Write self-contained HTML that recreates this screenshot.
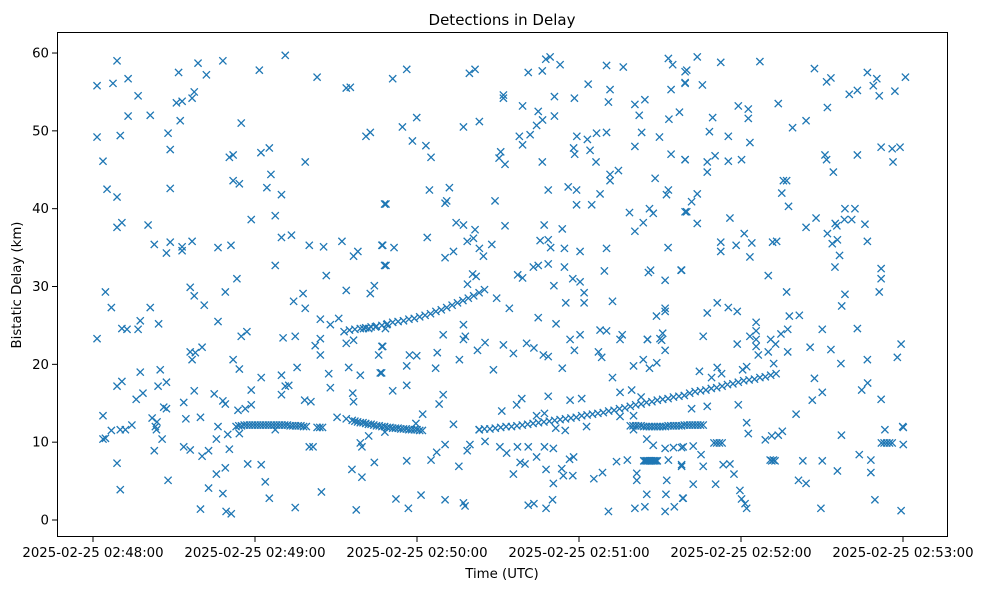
<!DOCTYPE html>
<html><head><meta charset="utf-8"><style>
html,body{margin:0;padding:0;background:#fff;}
svg{display:block;font-family:"DejaVu Sans","Liberation Sans",sans-serif;}
</style></head><body>
<svg id="chart" width="984" height="590" viewBox="0 0 984 590" xmlns="http://www.w3.org/2000/svg">
<rect x="0" y="0" width="984" height="590" fill="#fff"/>
<text x="502" y="25" font-size="15" text-anchor="middle" fill="#000">Detections in Delay</text>
<g id="marks"></g>
<g id="axes"></g>
<rect x="57.5" y="32.5" width="890" height="504" fill="none" stroke="#000" stroke-width="1"/>
<text x="502" y="578" font-size="13.3" text-anchor="middle" fill="#000">Time (UTC)</text>
<text x="0" y="0" font-size="13.3" text-anchor="middle" fill="#000" transform="translate(21,285) rotate(-90)">Bistatic Delay (km)</text>
</svg>
<script>
// seconds after 02:48:00 / km
var xTickValues = [0, 60, 120, 180, 240, 300];
var xTickLabels = ["2025-02-25 02:48:00","2025-02-25 02:49:00","2025-02-25 02:50:00","2025-02-25 02:51:00","2025-02-25 02:52:00","2025-02-25 02:53:00"];
var yTickValues = [0, 10, 20, 30, 40, 50, 60];
var yTickLabels = ["0","10","20","30","40","50","60"];

var trackAT = [53,54,55,56,57,58,59,60,61,62,63,64,65,66,67,68,69,70,71,72,73,74,75,76,77,78,79,83,84,85];
var trackAD = [12.0,12.1,12.1,12.2,12.2,12.2,12.2,12.2,12.2,12.2,12.2,12.2,12.2,12.2,12.2,12.2,12.2,12.2,12.2,12.2,12.1,12.1,12.1,12.1,12.1,12.0,12.0,11.9,11.9,11.9];
var trackBT = [96,97,98,99,100,101,102,103,104,105,106,107,108,109,110,111,112,113,114,115,116,117,118,119,120,121,122];
var trackBD = [12.8,12.7,12.6,12.5,12.5,12.4,12.3,12.3,12.2,12.1,12.1,12.0,12.0,11.9,11.9,11.8,11.8,11.8,11.7,11.7,11.7,11.6,11.6,11.6,11.6,11.5,11.5];
var trackCT = [93,95,97,99,101,103,105,107,109,111,113,115,117,119,121,123,125,127,129,131,133,135,137,139,141,143,145];
var trackCD = [24.2,24.4,24.5,24.6,24.7,24.8,24.9,25.0,25.2,25.4,25.5,25.6,25.8,25.9,26.1,26.3,26.5,26.8,27.0,27.3,27.6,27.9,28.2,28.5,28.8,29.2,29.6];
var trackDT = [143,145,147,149,151,153,155,157,159,161,163,165,167,169,171,173,175,177,179,181,183,185,187,189,191,193,195,197,199,201,203,205,207,209,211,213,215,217,219,221,223,225,227,229,231,233,235,237,239,241,243,245,247,249,251,253];
var trackDD = [11.6,11.7,11.7,11.8,11.9,12.0,12.0,12.1,12.2,12.3,12.4,12.5,12.6,12.7,12.8,12.9,13.0,13.1,13.2,13.4,13.5,13.6,13.7,13.8,14.0,14.1,14.3,14.4,14.6,14.8,14.9,15.1,15.2,15.4,15.5,15.6,15.8,15.9,16.0,16.3,16.5,16.6,16.7,16.9,17.0,17.2,17.4,17.5,17.7,17.9,18.0,18.1,18.3,18.4,18.6,18.8];
var trackET = [199,200,201,202,203,204,205,206,207,208,209,210,211,212,213,214,215,216,217,218,219,220,221,222,223,224,225,226];
var trackED = [12.1,12.1,12.1,12.1,12.1,12.0,12.0,12.0,12.0,12.0,12.0,12.0,12.0,12.0,12.1,12.1,12.1,12.1,12.1,12.1,12.2,12.2,12.2,12.2,12.2,12.2,12.2,12.2];
var clusterT = [204,204.5,205,205.5,206,206.5,207,207.5,208,208.5,209,230,231,232,233,292,293,294,295,296,250.8,251.4,252,252.6];
var clusterD = [7.6,7.6,7.6,7.6,7.6,7.6,7.6,7.6,7.6,7.6,7.6,9.9,9.9,9.9,9.9,9.9,9.9,9.9,9.9,9.9,7.7,7.6,7.7,7.6];

var noiseT = [8.9,71.2,1.5,7.4,13.0,16.7,31.7,38.9,42.0,48.1,61.6,83.0,93.8,95.3,13.0,21.2,30.9,33.0,36.7,37.5,32.3,54.9,1.5,10.1,27.8,28.6,101.1,102.7,3.7,50.5,51.9,62.2,65.3,78.6,65.9,5.2,8.9,28.6,51.9,54.2,64.4,69.8,108.0,58.6,67.5,8.9,10.7,20.4,22.7,27.2,28.6,33.0,33.0,36.7,46.3,51.1,69.8,73.5,80.1,85.4,92.2,96.5,98.1,107.0,108.0,67.5,86.4,53.3,4.6,6.8,21.2,36.0,37.5,41.2,49.0,74.3,77.8,78.6,104.2,102.7,93.8,91.0,84.2,87.9,1.5,10.7,12.6,16.7,17.5,24.3,46.3,54.9,57.0,70.4,74.9,84.2,82.3,84.2,93.8,96.5,100.2,102.1,104.6,108.3,107.0,105.8,36.0,37.9,40.4,36.7,51.9,54.2,17.5,24.9,8.9,10.7,24.1,27.2,62.3,69.8,75.6,71.2,72.5,87.3,87.9,94.7,99.0,106.4,16.0,18.5,26.2,27.2,37.5,44.9,48.1,49.0,33.6,58.6,53.7,56.4,58.6,69.8,78.4,80.7,96.2,96.5,3.7,21.9,23.7,34.4,39.8,90.4,93.8,3.7,4.6,6.8,10.1,12.0,14.4,23.1,23.5,25.6,22.7,33.6,36.0,40.4,42.8,46.3,45.7,49.9,50.5,54.2,67.5,80.1,81.5,99.0,99.6,102.1,8.9,10.1,27.8,45.7,49.0,42.8,48.1,39.8,49.3,51.2,57.3,62.3,63.8,65.3,74.9,84.6,95.9,99.6,104.2,97.5,
111.0,116.2,139.4,141.5,152.0,152.0,161.2,166.4,167.7,169.3,173.0,159.1,164.9,166.5,164.3,170.9,170.9,178.3,183.4,190.2,196.4,191.5,190.9,200.7,204.4,202.3,213.1,214.7,214.1,219.3,219.3,213.3,217.2,114.6,119.9,118.3,123.3,125.2,137.2,143.1,157.9,159.1,161.9,151.0,150.4,152.6,166.4,179.2,183.1,186.5,190.2,178.0,178.4,184.1,186.3,203.2,209.8,200.7,214.1,219.3,191.5,194.6,191.5,208.2,124.6,132.0,130.4,131.0,148.9,168.6,176.0,179.1,179.1,184.7,187.8,213.1,212.4,219.9,198.7,206.1,207.5,203.8,200.7,108.5,107.3,111.5,108.5,134.5,137.2,141.5,123.8,138.6,140.9,143.1,144.6,147.7,130.4,133.5,152.6,167.1,173.8,165.6,168.6,169.5,174.6,180.4,190.2,213.0,157.3,159.1,163.1,164.9,168.6,174.6,177.7,180.4,189.4,205.7,206.5,211.9,217.8,170.7,181.9,181.9,175.1,192.4,149.5,154.2,140.6,141.9,138.7,164.9,171.5,208.7,211.9,211.9,211.0,210.6,211.9,205.4,137.2,137.2,137.9,129.7,108.8,107.3,106.9,145.2,142.4,152.0,155.7,160.6,163.3,166.8,168.6,176.7,180.4,178.3,187.2,188.4,195.2,196.0,205.3,187.8,190.2,210.0,117.2,119.9,127.5,135.7,116.2,126.9,148.3,173.8,200.2,203.8,206.1,208.8,111.0,116.2,129.7,128.2,122.1,119.6,133.5,151.4,156.9,158.8,168.6,176.7,181.0,192.4,195.2,199.5,203.0,164.3,167.2,171.4,174.9,182.8,195.2,200.2,200.2,205.1,207.5,108.1,143.1,130.4,127.3,125.2,139.6,138.6,145.2,135.5,116.2,150.7,153.2,157.2,161.2,164.3,167.2,170.5,158.2,160.0,155.7,167.8,170.5,173.6,174.2,177.7,178.0,176.5,185.5,188.7,193.9,197.9,201.4,201.4,205.1,212.5,212.2,211.9,215.3,218.4,112.2,116.8,121.5,130.4,137.2,137.8,161.2,163.3,167.8,170.2,190.9,200.7,204.4,211.9,215.0,218.0,213.1,218.0,
223.8,232.5,247.0,219.9,219.3,225.7,267.2,271.7,273.3,272.0,286.8,290.3,289.0,291.2,280.1,283.1,297.0,300.9,239.0,242.7,242.7,253.8,229.5,228.3,235.3,243.3,259.1,264.1,219.3,227.5,230.4,235.3,240.2,227.5,271.1,271.7,274.2,283.1,291.9,296.3,296.0,298.9,255.7,256.9,255.1,257.6,223.8,221.7,219.3,223.8,235.9,264.1,267.8,278.5,282.2,281.0,278.3,274.9,275.5,272.0,273.8,275.7,285.9,286.8,276.5,274.8,232.5,232.5,238.2,241.2,244.0,243.3,251.7,253.2,250.1,291.9,291.9,291.2,256.9,278.5,277.3,218.0,227.5,231.2,235.3,238.6,226.0,238.6,243.3,245.6,245.6,245.6,245.6,246.4,250.1,251.0,252.8,254.8,257.3,257.3,257.9,261.6,252.1,265.6,270.1,273.3,277.0,283.1,286.8,297.9,299.3,224.6,229.1,231.2,232.8,240.6,242.1,267.2,266.4,270.1,260.4,284.7,286.9,291.9,221.7,227.5,239.0,242.1,242.7,218.6,222.3,225.2,226.0,218.0,222.3,230.6,218.6,233.4,235.9,237.4,239.6,240.2,241.5,242.1,249.0,251.4,253.8,255.3,261.3,264.1,262.9,270.1,275.7,269.6,277.2,283.8,288.1,288.1,289.6,299.3,293.3,300.1,300.1,299.9];
var noiseD = [59.0,59.7,55.8,56.1,56.7,54.5,57.5,58.7,57.2,59.0,57.8,56.9,55.5,55.6,51.9,52.0,53.6,53.8,54.2,55.0,51.3,51.0,49.2,49.4,49.7,47.6,49.3,49.8,46.1,46.6,46.9,47.2,47.8,46.0,44.4,42.5,41.5,42.6,43.6,43.2,42.7,41.8,40.6,38.6,39.1,37.6,38.2,37.9,35.4,34.3,35.7,35.1,34.6,35.8,35.0,35.3,36.3,36.6,35.3,35.1,35.8,33.9,34.5,35.3,32.7,32.7,31.4,31.0,29.3,27.3,27.3,29.9,28.8,27.6,29.3,28.1,29.1,27.2,30.1,29.1,29.5,25.9,25.8,25.1,23.3,24.6,24.5,24.5,25.6,25.2,25.5,23.6,24.2,23.4,23.6,23.3,22.4,21.2,22.7,23.1,24.6,24.6,24.8,24.6,22.3,21.2,21.6,21.5,22.2,20.6,20.6,19.4,19.0,19.3,17.2,17.8,17.2,17.7,18.3,18.6,19.6,17.2,17.3,18.8,17.0,19.6,18.6,18.9,15.5,16.3,14.5,14.3,16.6,16.2,15.3,14.9,15.1,16.7,14.1,14.3,14.8,16.1,15.4,15.2,16.3,15.2,13.4,13.1,12.6,13.0,13.2,13.2,13.0,10.4,10.5,11.5,11.6,11.6,12.2,12.0,11.6,10.4,8.9,9.4,9.0,8.2,8.9,12.0,10.4,11.0,9.1,11.1,11.6,9.4,9.4,9.9,9.4,10.8,7.3,3.9,5.1,5.9,6.7,4.1,3.4,1.4,1.1,0.8,7.2,7.1,4.9,2.8,1.6,3.6,6.5,5.5,7.4,1.3,
56.7,57.9,57.4,57.9,54.6,54.2,57.5,57.7,59.2,59.5,58.5,53.2,52.5,51.4,50.7,54.4,51.9,54.2,56.0,58.4,58.2,55.3,53.7,53.4,54.0,52.0,59.3,58.5,55.3,57.6,56.1,51.5,52.4,50.5,51.7,48.7,48.1,46.6,50.5,51.2,49.3,48.2,49.5,47.3,46.5,45.7,46.0,49.3,48.9,49.7,49.8,47.8,47.0,47.5,46.0,49.8,49.2,48.0,47.0,46.3,44.4,44.9,43.6,43.9,42.4,42.7,40.7,41.0,41.0,42.4,42.8,42.4,40.5,40.5,41.9,42.4,41.8,39.6,39.5,40.0,39.4,38.2,37.1,40.6,35.3,35.0,32.7,38.2,37.9,37.3,36.3,35.8,36.2,34.9,33.9,35.4,33.7,34.5,37.8,37.9,37.4,35.9,36.0,35.0,34.9,34.5,34.9,35.0,31.5,31.1,32.5,32.7,32.9,32.5,31.0,30.6,32.0,31.8,32.1,30.8,32.1,30.1,29.2,27.9,27.9,28.1,28.5,27.2,31.6,31.3,30.3,26.0,25.2,26.2,26.8,27.2,24.0,23.1,21.8,23.2,25.1,23.2,23.6,23.8,25.1,22.3,18.9,22.8,21.8,22.5,21.4,22.7,22.1,21.2,21.0,23.2,23.8,21.8,21.6,20.9,23.2,23.8,23.2,24.4,24.3,23.3,21.2,21.1,21.5,20.6,19.8,19.5,19.3,19.5,19.8,20.6,19.5,20.2,16.6,17.3,16.1,14.9,13.6,12.4,12.3,14.0,14.8,15.6,15.9,15.4,15.6,18.3,16.4,16.7,15.8,13.4,13.7,11.8,11.5,12.0,13.3,13.4,11.6,10.4,9.6,11.3,11.6,9.7,8.7,7.7,9.7,8.9,10.1,6.9,7.6,9.4,8.6,9.4,9.4,8.1,9.4,9.2,7.4,7.2,5.9,6.5,4.7,6.6,5.7,5.7,8.1,7.8,5.3,6.1,7.5,7.7,6.0,5.1,3.3,5.1,3.3,1.1,1.7,2.8,2.7,1.5,3.2,2.6,2.2,1.8,1.9,2.1,1.5,2.6,1.1,1.5,1.7,9.2,9.3,9.3,7.7,7.1,
59.5,58.8,58.9,57.8,56.2,55.9,58.0,56.3,56.8,53.0,57.5,56.7,55.8,54.5,54.7,55.2,55.1,56.9,53.2,52.8,51.6,53.5,51.7,49.9,49.3,48.5,50.4,51.3,46.3,46.0,46.8,46.1,46.3,44.7,46.9,46.3,44.7,46.9,47.9,46.0,47.7,47.9,43.6,43.6,42.0,40.3,41.9,40.9,39.6,38.1,38.8,37.6,38.8,40.0,40.0,38.6,38.6,38.1,37.8,36.8,35.5,36.0,38.0,35.8,34.0,32.5,35.7,34.5,35.3,36.8,35.6,33.8,35.7,35.8,31.4,32.3,31.0,29.3,29.3,29.0,27.5,32.1,26.6,27.9,27.3,26.8,23.6,22.6,23.6,25.4,24.3,23.2,22.3,21.2,21.6,23.2,22.6,23.9,24.5,21.6,26.2,26.3,20.1,22.2,24.5,21.9,20.1,24.6,20.6,20.9,22.6,19.1,18.3,19.6,18.8,19.3,19.7,18.2,15.4,16.4,13.6,16.7,17.6,15.5,14.3,14.6,14.8,12.5,11.1,9.4,9.5,8.4,6.9,6.9,4.6,4.6,2.8,7.1,7.2,5.9,3.8,2.7,2.1,1.5,10.3,10.8,10.9,11.4,5.1,4.7,7.6,7.6,6.3,1.5,10.9,8.4,7.7,6.1,2.6,1.2,11.6,11.9,9.7,12.0];

var X0 = 93, PXS = 2.7, Y0 = 520, PXK = 7.783;
function xScale(t){ return X0 + t * PXS; }
function yScale(d){ return Y0 - d * PXK; }

var NS = "http://www.w3.org/2000/svg";
var marks = document.getElementById('marks');
function drawX(t, d){
  var cx = xScale(t), cy = yScale(d), r = 3.6;
  var p = document.createElementNS(NS, 'path');
  p.setAttribute('d', 'M'+(cx-r)+' '+(cy-r)+'L'+(cx+r)+' '+(cy+r)+'M'+(cx-r)+' '+(cy+r)+'L'+(cx+r)+' '+(cy-r));
  p.setAttribute('stroke', '#1f77b4');
  p.setAttribute('stroke-width', '1.3');
  p.setAttribute('fill', 'none');
  
  
  marks.appendChild(p);
}
function drawSet(ts, ds){ for (var i = 0; i < ts.length && i < ds.length; i++) drawX(ts[i], ds[i]); }
drawSet(noiseT, noiseD);
drawSet(trackAT, trackAD);
drawSet(trackBT, trackBD);
drawSet(trackCT, trackCD);
drawSet(trackDT, trackDD);
drawSet(trackET, trackED);
drawSet(clusterT, clusterD);

var axes = document.getElementById('axes');
for (var i = 0; i < xTickValues.length; i++){
  var x = xScale(xTickValues[i]);
  var l = document.createElementNS(NS, 'line');
  l.setAttribute('x1', x); l.setAttribute('x2', x); l.setAttribute('y1', 537); l.setAttribute('y2', 542);
  l.setAttribute('stroke', '#000');
  
  
  axes.appendChild(l);
  var tx = document.createElementNS(NS, 'text');
  tx.setAttribute('x', x); tx.setAttribute('y', 557);
  tx.setAttribute('font-size', '13.3'); tx.setAttribute('text-anchor', 'middle');
  tx.textContent = xTickLabels[i];
  
  
  axes.appendChild(tx);
}
for (var j = 0; j < yTickValues.length; j++){
  var y = yScale(yTickValues[j]);
  var ly = document.createElementNS(NS, 'line');
  ly.setAttribute('x1', 52); ly.setAttribute('x2', 57); ly.setAttribute('y1', y); ly.setAttribute('y2', y);
  ly.setAttribute('stroke', '#000');
  
  
  axes.appendChild(ly);
  var ty = document.createElementNS(NS, 'text');
  ty.setAttribute('x', 49); ty.setAttribute('y', y + 4.5);
  ty.setAttribute('font-size', '13.3'); ty.setAttribute('text-anchor', 'end');
  ty.textContent = yTickLabels[j];
  
  
  axes.appendChild(ty);
}
</script>
</body></html>
